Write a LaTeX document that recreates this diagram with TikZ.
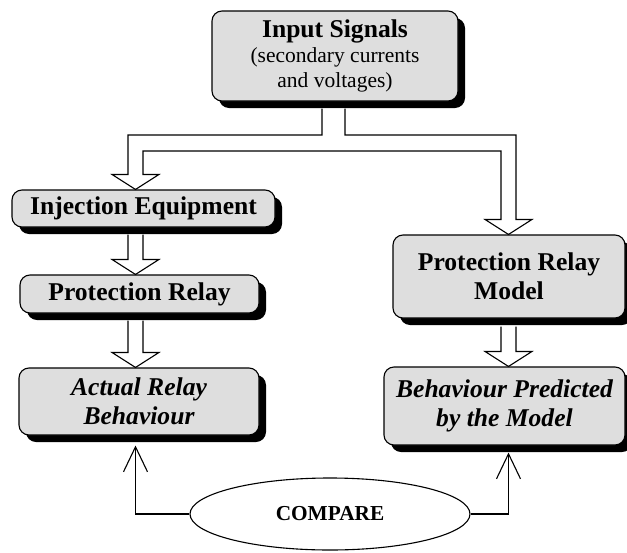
\documentclass[tikz,border=0pt]{standalone}
\usepackage{fontspec}
\setmainfont{Liberation Serif}
\usetikzlibrary{shapes.geometric,shadows,calc,arrows.meta}

% hollow block arrow pointing down from one box to the next along a column
\newcommand\fatdown[4]{%
  \draw[hollow] ($(#2.south -| #1)+(-7.5,#4)$)
    -- ($(#3.north -| #1)+(-7.5,-15)$) -- ($(#3.north -| #1)+(-23.5,-15)$)
    -- (#3.north -| #1)
    -- ($(#3.north -| #1)+(23.5,-15)$) -- ($(#3.north -| #1)+(7.5,-15)$)
    -- ($(#2.south -| #1)+(7.5,#4)$);}

\begin{document}
\begin{tikzpicture}[x=1pt,y=-1pt,
  box/.style={draw, line width=1.1pt, rounded corners=10pt, fill=black!13,
    align=center, inner sep=0pt,
    drop shadow={shadow xshift=7pt, shadow yshift=-7pt, fill=black, opacity=1}},
  big/.style={font=\fontsize{25.6}{29}\selectfont\bfseries},
  bigit/.style={font=\fontsize{25.6}{29}\selectfont\bfseries\itshape},
  hollow/.style={draw, fill=white, line width=1.1pt, line join=miter},
  thinarrow/.style={line width=1.1pt, -{Straight Barb[length=25pt,width=24pt]}},
]
\useasboundingbox (0,0) rectangle (627,552);

% columns and band levels for the block arrows
\coordinate (colT) at (333.5,0);
\coordinate (colA) at (135.5,0);
\coordinate (colB) at (508.5,0);
\coordinate (bandTop) at (0,135);
\coordinate (bandBot) at (0,151);

% boxes
\node[box, minimum width=246, minimum height=90,
      font=\fontsize{21.5}{25}\selectfont] (inp) at (335,56)
  {{\fontsize{25.6}{29}\selectfont\bfseries Input Signals}\\(secondary currents\\and voltages)};
\node[box, big, minimum width=263, minimum height=37] (inj) at (143.5,208.5) {Injection Equipment};
\node[box, big, minimum width=239, minimum height=38] (rel) at (139.5,294) {Protection Relay};
\node[box, bigit, minimum width=240, minimum height=67] (act) at (139,401.5) {Actual Relay\\Behaviour};
\node[box, big, minimum width=232, minimum height=83] (prm) at (509,276.5) {Protection Relay\\Model};
\node[box, bigit, minimum width=241, minimum height=78] (beh) at (504.5,406) {Behaviour Predicted\\by the Model};

\node[draw, ellipse, line width=1.1pt, fill=white, minimum width=280, minimum height=72,
      inner sep=0pt, font=\fontsize{21.3}{24}\selectfont\bfseries] (cmp) at (330,514) {COMPARE};

% branching block arrow from the input signals
\draw[hollow] ($(inp.south -| colT)+(-11.5,7)$) -- ($(colT |- bandTop)+(-11.5,0)$)
  -- ($(colA |- bandTop)+(-7.5,0)$)
  -- ($(inj.north -| colA)+(-7.5,-15)$) -- ($(inj.north -| colA)+(-23.5,-15)$)
  -- (inj.north -| colA)
  -- ($(inj.north -| colA)+(23.5,-15)$) -- ($(inj.north -| colA)+(7.5,-15)$)
  -- ($(colA |- bandBot)+(7.5,0)$) -- ($(colB |- bandBot)+(-7.5,0)$)
  -- ($(prm.north -| colB)+(-7.5,-15)$) -- ($(prm.north -| colB)+(-23.5,-15)$)
  -- (prm.north -| colB)
  -- ($(prm.north -| colB)+(23.5,-15)$) -- ($(prm.north -| colB)+(7.5,-15)$)
  -- ($(colB |- bandTop)+(7.5,0)$) -- ($(colT |- bandTop)+(11.5,0)$)
  -- ($(inp.south -| colT)+(11.5,7)$);

% block arrows down each chain
\fatdown{colA}{inj}{rel}{7}
\fatdown{colA}{rel}{act}{7}
\fatdown{colB}{prm}{beh}{8}

% comparison feedback
\draw[thinarrow] (cmp.west) -| ($(act.south -| colA)+(0,10)$);
\draw[thinarrow] (cmp.east) -| ($(beh.south -| colB)+(0,7)$);
\end{tikzpicture}
\end{document}
